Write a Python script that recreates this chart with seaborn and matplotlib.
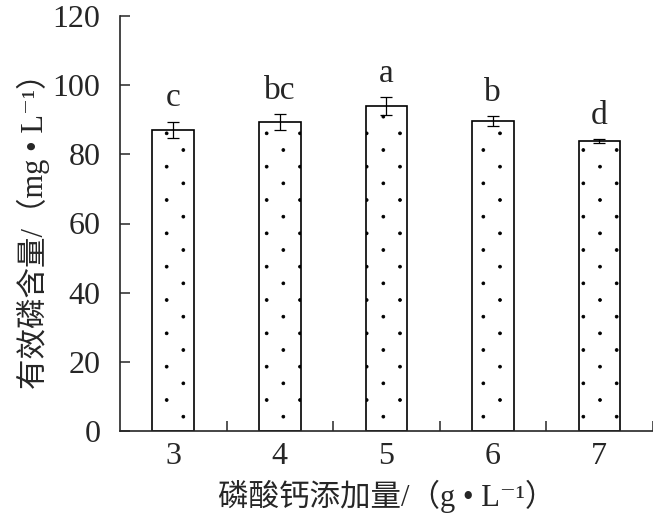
import numpy as np
import pandas as pd
import matplotlib
matplotlib.use("Agg")
import matplotlib.pyplot as plt
import matplotlib.hatch as mhatch
from matplotlib.path import Path
import seaborn as sns

# ---- data ----
doses = ["3", "4", "5", "6", "7"]
means = [87.0, 89.3, 94.0, 89.6, 83.8]
errs = [2.4, 2.3, 2.6, 1.5, 0.6]
letters = ["c", "bc", "a", "b", "d"]
yticks = [0, 20, 40, 60, 80, 100, 120]


# ---- sparse staggered dot hatch (replaces matplotlib's '.' pattern) ----
class SparseDots(mhatch.HatchPatternBase):
    size = 0.085

    def __init__(self, hatch, density):
        self.num_rows = hatch.count(".") * density
        circ = Path.unit_circle()
        self.shape_vertices = circ.vertices
        self.shape_codes = circ.codes
        self.positions = []
        if self.num_rows:
            for r in range(self.num_rows + 1):
                start = 0 if r % 2 == 0 else 1
                for c in range(start, self.num_rows + 1, 2):
                    self.positions.append((c, r))
        self.num_vertices = len(self.positions) * len(self.shape_vertices)

    def set_vertices_and_codes(self, vertices, codes):
        off = 1.0 / self.num_rows
        sv = self.shape_vertices * off * self.size
        vparts, cparts = [], []
        for c, r in self.positions:
            vparts.append(sv + [c * off, r * off])
            cparts.append(self.shape_codes)
        np.concatenate(vparts, out=vertices)
        np.concatenate(cparts, out=codes)


mhatch._hatch_types = [SparseDots if t is mhatch.SmallFilledCircles else t
                       for t in mhatch._hatch_types]

sns.set_style("ticks")
plt.rcParams["font.family"] = ["Liberation Serif", "Noto Sans CJK SC", "DejaVu Serif"]
plt.rcParams["hatch.color"] = "black"
plt.rcParams["hatch.linewidth"] = 0.6

fig = plt.figure(figsize=(6.53, 5.31), dpi=100)
ax = fig.add_axes([120 / 653, 1 - 431 / 531, (652.6 - 120) / 653, (431 - 16) / 531])

df = pd.DataFrame({"dose": doses, "mean": means})
sns.barplot(data=df, x="dose", y="mean", width=0.39, color="white",
            saturation=1, edgecolor="black", linewidth=1.2, hatch=".",
            errorbar=None, ax=ax)

ax.errorbar(np.arange(len(doses)), means, yerr=errs, fmt="none",
            ecolor="black", elinewidth=0.9, capsize=4.5, capthick=0.9, zorder=5)

for i, (m, e, l) in enumerate(zip(means, errs, letters)):
    ax.annotate(l, xy=(i, m + e), xytext=(0, 6), textcoords="offset points",
                ha="center", va="bottom", fontsize=24)

ax.set_xlim(-0.5, len(doses) - 0.5)
ax.set_ylim(0, 120)
ax.set_yticks(yticks)
ax.set_yticklabels([str(v) for v in yticks])
ax.set_xticks(np.arange(len(doses)) + 0.5, minor=True)

ax.tick_params(axis="x", which="major", length=0, pad=8, labelsize=23)
ax.tick_params(axis="x", which="minor", direction="in", length=7, width=1.1)
ax.tick_params(axis="y", which="major", direction="in", length=7, width=1.1,
               pad=14, labelsize=23)

for s in ["top", "right"]:
    ax.spines[s].set_visible(False)
for s in ["left", "bottom"]:
    ax.spines[s].set_linewidth(1.2)

ax.set_xlabel("磷酸钙添加量/（g • L⁻¹）", fontsize=22, labelpad=6)
ax.set_ylabel("有效磷含量/（mg • L⁻¹）", fontsize=22, labelpad=2)

fig.savefig("out.png", dpi=100)
